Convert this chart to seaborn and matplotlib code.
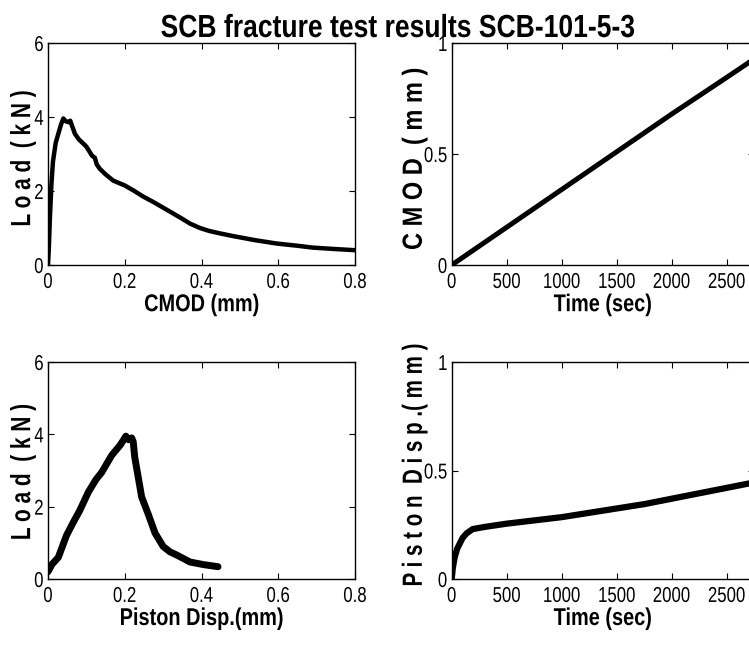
import numpy as np
import pandas as pd
import matplotlib
matplotlib.use("Agg")
import matplotlib.pyplot as plt
import seaborn as sns
from matplotlib.patheffects import AbstractPathEffect
from matplotlib.transforms import Affine2D

# ---------------- data ----------------
cmod_mm = [0.0, 0.002, 0.005, 0.009, 0.013, 0.02, 0.027, 0.034, 0.04, 0.047, 0.053, 0.058,
           0.062, 0.07, 0.08, 0.1, 0.115, 0.122, 0.127, 0.135, 0.15, 0.17, 0.2, 0.225, 0.248,
           0.275, 0.3, 0.325, 0.348, 0.37, 0.396, 0.42, 0.45, 0.483, 0.54, 0.596, 0.65,
           0.69, 0.75, 0.8]
load_vs_cmod = [0.0, 0.4, 1.28, 2.2, 2.8, 3.3, 3.55, 3.8, 3.96, 3.88, 3.86, 3.9,
                3.78, 3.55, 3.4, 3.2, 2.95, 2.9, 2.72, 2.6, 2.45, 2.28, 2.15, 2.0, 1.85,
                1.7, 1.55, 1.4, 1.26, 1.12, 1.0, 0.92, 0.85, 0.78, 0.67, 0.58, 0.52,
                0.47, 0.43, 0.40]

time_cmod = [0, 500, 1000, 1500, 2000, 2500, 2800]
cmod_vs_time = [0.0, 0.17, 0.34, 0.51, 0.68, 0.845, 0.945]

piston_mm = [0.0, 0.01, 0.027, 0.048, 0.065, 0.083, 0.105, 0.125, 0.14, 0.166, 0.188, 0.203,
             0.21, 0.218, 0.222, 0.226, 0.235, 0.244, 0.262, 0.279, 0.3, 0.318, 0.336,
             0.37, 0.404, 0.443]
load_vs_piston = [0.2, 0.4, 0.6, 1.2, 1.55, 1.9, 2.4, 2.75, 2.95, 3.42, 3.7, 3.95,
                  3.85, 3.9, 3.8, 3.37, 2.82, 2.27, 1.77, 1.27, 0.9, 0.75, 0.66,
                  0.47, 0.4, 0.34]

time_piston = [0, 10, 27, 50, 75, 100, 135, 190, 300, 500, 750, 1000, 1250, 1500,
               1750, 2000, 2250, 2500, 2700, 2800]
piston_vs_time = [0.0, 0.05, 0.1, 0.14, 0.165, 0.19, 0.21, 0.23, 0.24, 0.255, 0.27,
                  0.285, 0.305, 0.325, 0.345, 0.37, 0.395, 0.42, 0.44, 0.45]

load_ticks = [0, 2, 4, 6]
load_ticklabels = ["0", "2", "4", "6"]
mm_ticks = [0, 0.2, 0.4, 0.6, 0.8]
mm_ticklabels = ["0", "0.2", "0.4", "0.6", "0.8"]
time_ticks = [0, 500, 1000, 1500, 2000, 2500]
time_ticklabels = ["0", "500", "1000", "1500", "2000", "2500"]
unit_ticks = [0, 0.5, 1]
unit_ticklabels = ["0", "0.5", "1"]

title = "SCB fracture test results SCB-101-5-3"


# ---------------- condensed-text helper ----------------
class Squeeze(AbstractPathEffect):
    """Compress a text along its writing direction (narrow font look)."""
    def __init__(self, s, anchor="center"):
        super().__init__()
        self.s = s
        self.anchor = anchor

    def draw_path(self, renderer, gc, tpath, affine, rgbFace=None):
        ext = tpath.get_extents()
        if self.anchor == "center":
            cx = (ext.x0 + ext.x1) / 2
        elif self.anchor == "right":
            cx = ext.x1
        else:
            cx = ext.x0
        t = Affine2D().translate(-cx, 0).scale(self.s, 1).translate(cx, 0) + affine
        renderer.draw_path(gc, tpath, t, rgbFace)


# ---------------- style ----------------
sns.set_style("ticks")
FAM = ["Liberation Sans", "DejaVu Sans"]
plt.rcParams["font.family"] = FAM
plt.rcParams.update({
    "xtick.direction": "in", "ytick.direction": "in",
    "xtick.top": True, "ytick.right": True,
    "xtick.major.size": 4, "ytick.major.size": 4,
    "xtick.major.width": 0.8, "ytick.major.width": 0.8,
    "axes.linewidth": 1.0, "axes.edgecolor": "black",
    "xtick.color": "black", "ytick.color": "black",
    "text.color": "black", "axes.labelcolor": "black",
})

W, H = 749, 646
fig = plt.figure(figsize=(W / 100, H / 100), dpi=100)

def rect(l, t, r, b):
    return [l / W, 1 - b / H, (r - l) / W, (b - t) / H]

ax1 = fig.add_axes(rect(48, 43, 355, 265))
ax2 = fig.add_axes(rect(451.7, 43, 754.2, 265))
ax3 = fig.add_axes(rect(48, 362, 355, 579))
ax4 = fig.add_axes(rect(451.7, 362, 754.2, 579))

df1 = pd.DataFrame({"x": cmod_mm, "y": load_vs_cmod})
df2 = pd.DataFrame({"x": time_cmod, "y": cmod_vs_time})
df3 = pd.DataFrame({"x": piston_mm, "y": load_vs_piston})
df4 = pd.DataFrame({"x": time_piston, "y": piston_vs_time})

sns.lineplot(data=df1, x="x", y="y", ax=ax1, sort=False, estimator=None, color="black", lw=3.2)
sns.lineplot(data=df2, x="x", y="y", ax=ax2, sort=False, estimator=None, color="black", lw=3.6)
sns.lineplot(data=df3, x="x", y="y", ax=ax3, sort=False, estimator=None, color="black", lw=5)
sns.lineplot(data=df4, x="x", y="y", ax=ax4, sort=False, estimator=None, color="black", lw=4.5)

TICK_FS = 15.5
TICK_SQ = 0.78
LAB_FS = 17.5
YLAB_FS = 20
SQ = 0.82

def style(ax, xt, xtl, yt, ytl, xlim, ylim, xlabel, ylabel, ysq, ylx, yly, xly):
    ax.set_xlim(*xlim)
    ax.set_ylim(*ylim)
    ax.set_xticks(xt, xtl)
    ax.set_yticks(yt, ytl)
    ax.tick_params(axis="x", pad=5, labelsize=TICK_FS)
    ax.tick_params(axis="y", pad=3, labelsize=TICK_FS)
    for t in ax.get_xticklabels():
        t.set_family(FAM)
        t.set_path_effects([Squeeze(TICK_SQ, "center")])
    for t in ax.get_yticklabels():
        t.set_family(FAM)
        t.set_path_effects([Squeeze(TICK_SQ, "right")])
    ax.set_xlabel(xlabel, fontsize=LAB_FS, fontweight="bold", family=FAM,
                  path_effects=[Squeeze(SQ, "center")])
    ax.xaxis.set_label_coords(0.5, xly)
    ax.set_ylabel(ylabel, fontsize=YLAB_FS, fontweight="bold", family=FAM, va="center",
                  path_effects=[Squeeze(ysq, "center")])
    ax.yaxis.set_label_coords(ylx, yly)
    for s in ax.spines.values():
        s.set_visible(True)
        s.set_color("black")

style(ax1, mm_ticks, mm_ticklabels, load_ticks, load_ticklabels, (0, 0.8), (0, 6),
      "CMOD (mm)", "L o a d  ( k N )", 0.75, -0.081, 0.48, -0.127)
style(ax2, time_ticks, time_ticklabels, unit_ticks, unit_ticklabels, (0, 2750), (0, 1),
      "Time (sec)", "C M O D  ( m m )", 0.85, -0.122, 0.478, -0.127)
style(ax3, mm_ticks, mm_ticklabels, load_ticks, load_ticklabels, (0, 0.8), (0, 6),
      "Piston Disp.(mm)", "L o a d  ( k N )", 0.75, -0.081, 0.493, -0.129)
style(ax4, time_ticks, time_ticklabels, unit_ticks, unit_ticklabels, (0, 2750), (0, 1),
      "Time (sec)", "P i s t o n  D i s p .( m m )", 0.74, -0.122, 0.525, -0.129)

fig.text(398 / W, 1 - 37 / H, title, ha="center", va="baseline",
         fontsize=23, fontweight="bold", family=FAM,
         path_effects=[Squeeze(0.83, "center")])

fig.savefig("out.png", dpi=100)
